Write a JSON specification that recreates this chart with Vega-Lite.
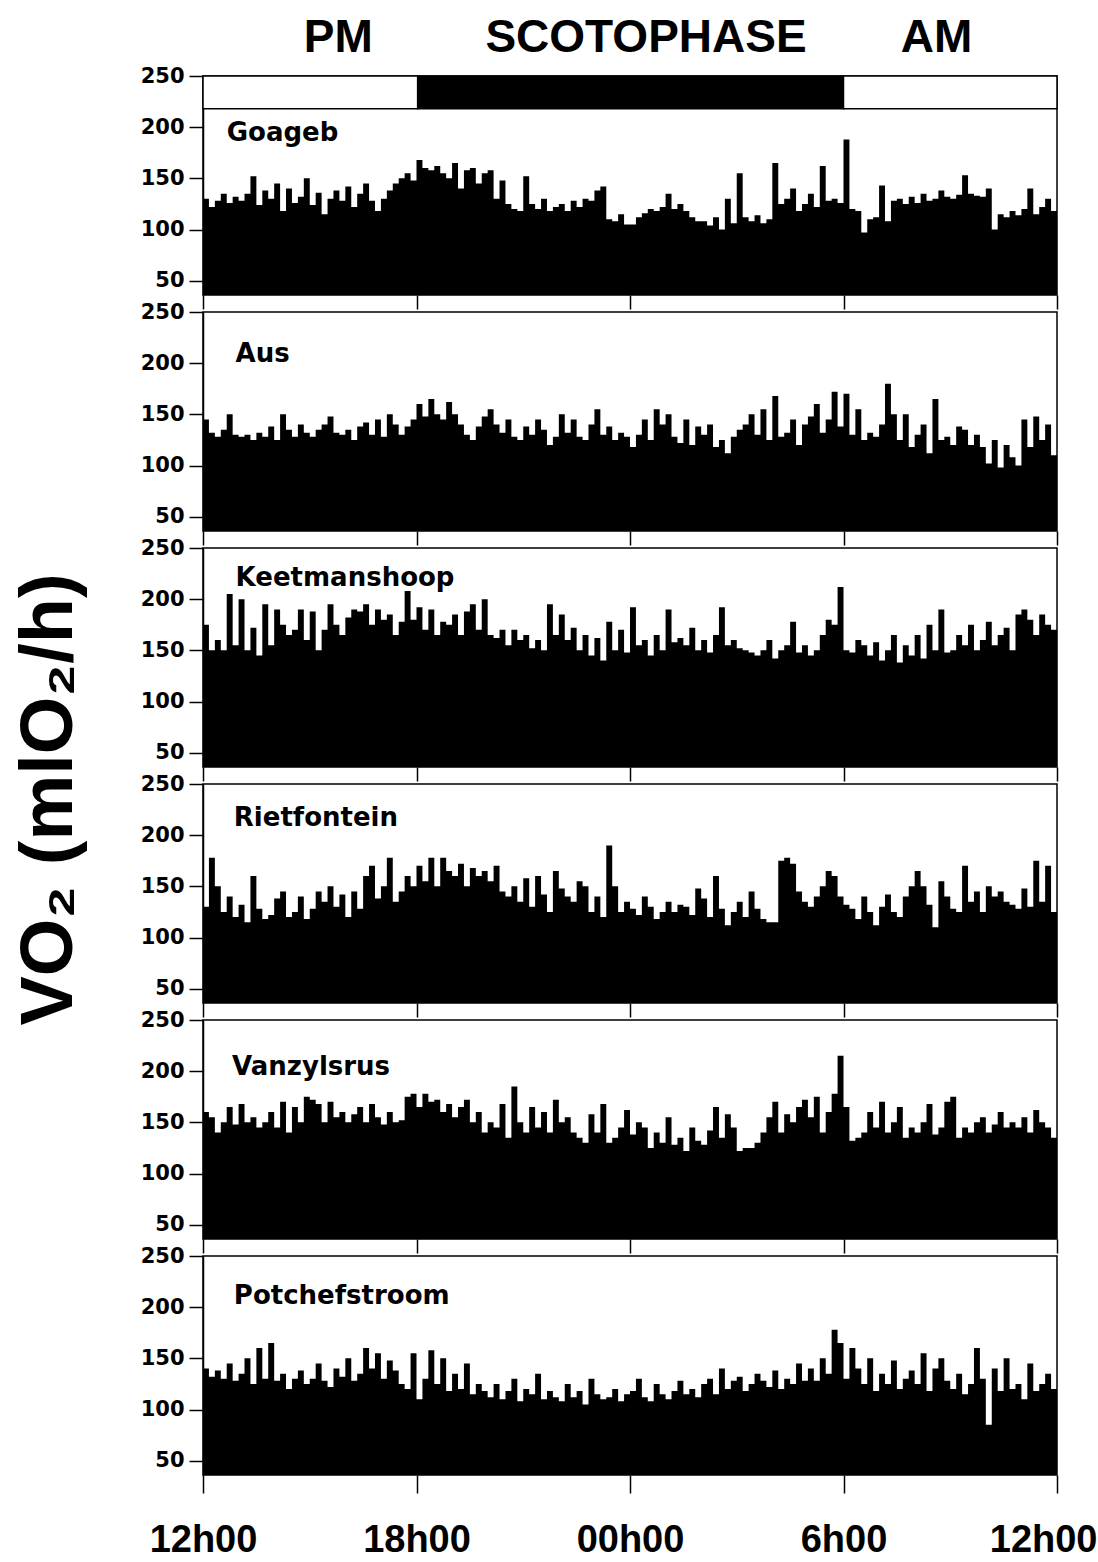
{
"$schema": "https://vega.github.io/schema/vega-lite/v6.json",
"background": "white",
"padding": {"left": 11, "top": 14, "right": 5, "bottom": 5},
"spacing": 17,
"bounds": "flush",
"config": {
  "view": {"stroke": "black", "strokeWidth": 1.5},
  "axis": {"domainColor": "black", "domainWidth": 1.5, "tickColor": "black", "tickWidth": 1.5, "labelColor": "black", "labelFont": "DejaVu Sans", "labelFontWeight": "bold", "labelFontSize": 21, "grid": false, "titleColor": "black"}
},
"datasets": {"vo2": [
{"m":0,"g":130,"a":145,"k":175,"r":130,"v":160,"p":140},
{"m":10,"g":122,"a":132,"k":150,"r":178,"v":155,"p":132},
{"m":20,"g":128,"a":128,"k":160,"r":150,"v":140,"p":138},
{"m":30,"g":135,"a":135,"k":150,"r":125,"v":150,"p":130},
{"m":40,"g":126,"a":150,"k":205,"r":140,"v":165,"p":145},
{"m":50,"g":132,"a":130,"k":155,"r":120,"v":148,"p":128},
{"m":60,"g":128,"a":128,"k":200,"r":132,"v":168,"p":135},
{"m":70,"g":135,"a":130,"k":150,"r":115,"v":150,"p":150},
{"m":80,"g":152,"a":125,"k":172,"r":160,"v":155,"p":125},
{"m":90,"g":124,"a":132,"k":145,"r":128,"v":145,"p":160},
{"m":100,"g":138,"a":128,"k":195,"r":118,"v":150,"p":130},
{"m":110,"g":130,"a":138,"k":155,"r":122,"v":160,"p":165},
{"m":120,"g":145,"a":125,"k":190,"r":138,"v":145,"p":128},
{"m":130,"g":118,"a":150,"k":175,"r":145,"v":170,"p":135},
{"m":140,"g":140,"a":135,"k":165,"r":120,"v":140,"p":120},
{"m":150,"g":126,"a":128,"k":170,"r":125,"v":165,"p":130},
{"m":160,"g":132,"a":140,"k":190,"r":140,"v":150,"p":138},
{"m":170,"g":150,"a":132,"k":160,"r":118,"v":175,"p":125},
{"m":180,"g":124,"a":128,"k":188,"r":128,"v":172,"p":130},
{"m":190,"g":136,"a":135,"k":150,"r":145,"v":168,"p":145},
{"m":200,"g":115,"a":140,"k":170,"r":135,"v":150,"p":128},
{"m":210,"g":130,"a":148,"k":195,"r":150,"v":170,"p":122},
{"m":220,"g":138,"a":132,"k":175,"r":130,"v":155,"p":140},
{"m":230,"g":128,"a":130,"k":165,"r":142,"v":160,"p":132},
{"m":240,"g":142,"a":135,"k":182,"r":120,"v":150,"p":150},
{"m":250,"g":122,"a":125,"k":190,"r":145,"v":158,"p":128},
{"m":260,"g":135,"a":138,"k":188,"r":128,"v":165,"p":135},
{"m":270,"g":145,"a":142,"k":195,"r":160,"v":150,"p":160},
{"m":280,"g":128,"a":130,"k":175,"r":170,"v":168,"p":140},
{"m":290,"g":118,"a":145,"k":190,"r":138,"v":155,"p":155},
{"m":300,"g":130,"a":128,"k":180,"r":150,"v":148,"p":130},
{"m":310,"g":138,"a":150,"k":185,"r":178,"v":160,"p":148},
{"m":320,"g":145,"a":140,"k":165,"r":135,"v":150,"p":138},
{"m":330,"g":150,"a":130,"k":178,"r":145,"v":152,"p":125},
{"m":340,"g":155,"a":138,"k":208,"r":160,"v":175,"p":120},
{"m":350,"g":148,"a":145,"k":180,"r":150,"v":178,"p":155},
{"m":360,"g":168,"a":160,"k":192,"r":170,"v":165,"p":110},
{"m":370,"g":160,"a":148,"k":170,"r":155,"v":178,"p":130},
{"m":380,"g":158,"a":165,"k":190,"r":178,"v":170,"p":158},
{"m":390,"g":162,"a":150,"k":165,"r":150,"v":172,"p":125},
{"m":400,"g":155,"a":145,"k":178,"r":178,"v":160,"p":150},
{"m":410,"g":150,"a":162,"k":175,"r":165,"v":168,"p":118},
{"m":420,"g":165,"a":150,"k":185,"r":160,"v":155,"p":135},
{"m":430,"g":140,"a":140,"k":165,"r":172,"v":165,"p":120},
{"m":440,"g":158,"a":130,"k":188,"r":150,"v":172,"p":145},
{"m":450,"g":160,"a":125,"k":195,"r":168,"v":150,"p":115},
{"m":460,"g":145,"a":138,"k":170,"r":160,"v":160,"p":125},
{"m":470,"g":155,"a":148,"k":200,"r":165,"v":140,"p":118},
{"m":480,"g":158,"a":155,"k":165,"r":155,"v":150,"p":112},
{"m":490,"g":130,"a":140,"k":162,"r":170,"v":145,"p":125},
{"m":500,"g":148,"a":132,"k":170,"r":145,"v":168,"p":110},
{"m":510,"g":125,"a":145,"k":155,"r":140,"v":135,"p":118},
{"m":520,"g":120,"a":128,"k":170,"r":150,"v":185,"p":130},
{"m":530,"g":118,"a":125,"k":160,"r":135,"v":150,"p":108},
{"m":540,"g":152,"a":138,"k":165,"r":158,"v":140,"p":120},
{"m":550,"g":125,"a":130,"k":152,"r":130,"v":165,"p":115},
{"m":560,"g":120,"a":145,"k":160,"r":160,"v":145,"p":135},
{"m":570,"g":130,"a":135,"k":150,"r":142,"v":160,"p":110},
{"m":580,"g":118,"a":120,"k":195,"r":125,"v":140,"p":118},
{"m":590,"g":122,"a":128,"k":165,"r":165,"v":172,"p":112},
{"m":600,"g":125,"a":150,"k":185,"r":148,"v":150,"p":108},
{"m":610,"g":118,"a":132,"k":160,"r":140,"v":155,"p":125},
{"m":620,"g":128,"a":145,"k":172,"r":135,"v":140,"p":112},
{"m":630,"g":122,"a":128,"k":150,"r":155,"v":135,"p":118},
{"m":640,"g":130,"a":125,"k":165,"r":150,"v":130,"p":105},
{"m":650,"g":128,"a":140,"k":145,"r":125,"v":158,"p":130},
{"m":660,"g":138,"a":155,"k":162,"r":140,"v":140,"p":115},
{"m":670,"g":142,"a":130,"k":140,"r":120,"v":168,"p":110},
{"m":680,"g":110,"a":138,"k":178,"r":190,"v":130,"p":112},
{"m":690,"g":108,"a":125,"k":150,"r":150,"v":135,"p":120},
{"m":700,"g":115,"a":132,"k":170,"r":125,"v":145,"p":108},
{"m":710,"g":105,"a":128,"k":148,"r":135,"v":162,"p":115},
{"m":720,"g":105,"a":118,"k":192,"r":128,"v":138,"p":118},
{"m":730,"g":112,"a":130,"k":155,"r":122,"v":150,"p":130},
{"m":740,"g":116,"a":145,"k":160,"r":140,"v":145,"p":112},
{"m":750,"g":120,"a":125,"k":145,"r":130,"v":125,"p":108},
{"m":760,"g":118,"a":155,"k":165,"r":118,"v":140,"p":125},
{"m":770,"g":122,"a":140,"k":150,"r":125,"v":130,"p":115},
{"m":780,"g":135,"a":150,"k":190,"r":135,"v":155,"p":110},
{"m":790,"g":120,"a":128,"k":158,"r":125,"v":128,"p":118},
{"m":800,"g":125,"a":122,"k":162,"r":132,"v":135,"p":128},
{"m":810,"g":118,"a":145,"k":155,"r":130,"v":122,"p":115},
{"m":820,"g":112,"a":120,"k":172,"r":122,"v":145,"p":120},
{"m":830,"g":108,"a":138,"k":150,"r":148,"v":132,"p":112},
{"m":840,"g":108,"a":130,"k":160,"r":138,"v":128,"p":125},
{"m":850,"g":104,"a":140,"k":148,"r":120,"v":142,"p":130},
{"m":860,"g":112,"a":118,"k":165,"r":160,"v":165,"p":115},
{"m":870,"g":100,"a":125,"k":192,"r":128,"v":135,"p":140},
{"m":880,"g":130,"a":112,"k":155,"r":112,"v":158,"p":120},
{"m":890,"g":106,"a":128,"k":160,"r":125,"v":145,"p":128},
{"m":900,"g":155,"a":135,"k":152,"r":135,"v":122,"p":132},
{"m":910,"g":112,"a":140,"k":150,"r":120,"v":125,"p":118},
{"m":920,"g":108,"a":150,"k":148,"r":145,"v":125,"p":125},
{"m":930,"g":114,"a":130,"k":145,"r":128,"v":130,"p":135},
{"m":940,"g":106,"a":155,"k":150,"r":118,"v":140,"p":128},
{"m":950,"g":110,"a":125,"k":160,"r":115,"v":155,"p":122},
{"m":960,"g":165,"a":168,"k":142,"r":115,"v":170,"p":138},
{"m":970,"g":125,"a":128,"k":150,"r":175,"v":140,"p":120},
{"m":980,"g":130,"a":132,"k":155,"r":178,"v":158,"p":130},
{"m":990,"g":140,"a":145,"k":178,"r":172,"v":150,"p":125},
{"m":1000,"g":118,"a":120,"k":148,"r":145,"v":165,"p":145},
{"m":1010,"g":125,"a":140,"k":155,"r":135,"v":172,"p":128},
{"m":1020,"g":135,"a":148,"k":145,"r":130,"v":155,"p":140},
{"m":1030,"g":122,"a":160,"k":150,"r":140,"v":175,"p":128},
{"m":1040,"g":162,"a":132,"k":165,"r":150,"v":140,"p":150},
{"m":1050,"g":128,"a":145,"k":180,"r":165,"v":160,"p":135},
{"m":1060,"g":130,"a":172,"k":175,"r":160,"v":178,"p":178},
{"m":1070,"g":126,"a":138,"k":212,"r":140,"v":215,"p":165},
{"m":1080,"g":188,"a":170,"k":150,"r":132,"v":165,"p":130},
{"m":1090,"g":120,"a":130,"k":148,"r":128,"v":132,"p":160},
{"m":1100,"g":118,"a":155,"k":160,"r":118,"v":135,"p":140},
{"m":1110,"g":97,"a":125,"k":155,"r":140,"v":140,"p":125},
{"m":1120,"g":110,"a":132,"k":145,"r":125,"v":160,"p":150},
{"m":1130,"g":112,"a":128,"k":158,"r":112,"v":145,"p":118},
{"m":1140,"g":143,"a":140,"k":140,"r":130,"v":170,"p":135},
{"m":1150,"g":108,"a":180,"k":150,"r":142,"v":140,"p":125},
{"m":1160,"g":128,"a":150,"k":165,"r":125,"v":150,"p":148},
{"m":1170,"g":130,"a":125,"k":138,"r":120,"v":165,"p":120},
{"m":1180,"g":125,"a":150,"k":155,"r":140,"v":135,"p":130},
{"m":1190,"g":132,"a":118,"k":145,"r":150,"v":145,"p":138},
{"m":1200,"g":126,"a":130,"k":165,"r":165,"v":140,"p":125},
{"m":1210,"g":135,"a":140,"k":142,"r":150,"v":150,"p":155},
{"m":1220,"g":128,"a":112,"k":175,"r":132,"v":168,"p":118},
{"m":1230,"g":130,"a":165,"k":150,"r":110,"v":138,"p":140},
{"m":1240,"g":138,"a":125,"k":190,"r":155,"v":145,"p":150},
{"m":1250,"g":132,"a":128,"k":148,"r":140,"v":170,"p":128},
{"m":1260,"g":130,"a":120,"k":150,"r":128,"v":175,"p":120},
{"m":1270,"g":134,"a":138,"k":165,"r":125,"v":135,"p":135},
{"m":1280,"g":153,"a":135,"k":155,"r":170,"v":145,"p":115},
{"m":1290,"g":135,"a":120,"k":175,"r":135,"v":140,"p":125},
{"m":1300,"g":133,"a":130,"k":150,"r":145,"v":150,"p":160},
{"m":1310,"g":132,"a":118,"k":160,"r":125,"v":155,"p":130},
{"m":1320,"g":140,"a":102,"k":178,"r":150,"v":140,"p":85},
{"m":1330,"g":100,"a":125,"k":155,"r":140,"v":148,"p":140},
{"m":1340,"g":115,"a":98,"k":165,"r":145,"v":160,"p":118},
{"m":1350,"g":112,"a":120,"k":172,"r":135,"v":145,"p":150},
{"m":1360,"g":118,"a":108,"k":150,"r":132,"v":150,"p":120},
{"m":1370,"g":114,"a":100,"k":185,"r":128,"v":145,"p":125},
{"m":1380,"g":120,"a":145,"k":190,"r":148,"v":155,"p":110},
{"m":1390,"g":140,"a":118,"k":180,"r":130,"v":140,"p":145},
{"m":1400,"g":115,"a":148,"k":165,"r":175,"v":162,"p":118},
{"m":1410,"g":122,"a":125,"k":185,"r":135,"v":150,"p":125},
{"m":1420,"g":130,"a":140,"k":175,"r":170,"v":145,"p":135},
{"m":1430,"g":118,"a":110,"k":170,"r":125,"v":135,"p":120},
{"m":1440,"g":125,"a":100,"k":162,"r":130,"v":178,"p":118}
]},
"vconcat": [
{
 "width": 854, "height": 219,
 "layer": [
  {"data": {"name": "vo2"},
   "mark": {"type": "area", "interpolate": "step-after", "color": "black"},
   "encoding": {
    "x": {"field": "m", "type": "quantitative", "scale": {"domain": [0, 1440], "nice": false, "zero": false}, "axis": {"values": [0, 360, 720, 1080, 1440], "labels": false, "tickSize": 14, "domain": false, "title": null}},
    "y": {"field": "g", "type": "quantitative", "scale": {"domain": [36, 250], "nice": false, "zero": false}, "axis": {"values": [50, 100, 150, 200, 250], "tickSize": 14, "labelPadding": 5, "title": null}},
    "y2": {"datum": 36}
   }},
  {"data": {"values": [{"s": 0, "e": 362, "phase": "light"}, {"s": 362, "e": 1080, "phase": "dark"}, {"s": 1080, "e": 1440, "phase": "light"}]},
   "mark": {"type": "rect", "stroke": "black", "strokeWidth": 1.5},
   "encoding": {
    "x": {"field": "s", "type": "quantitative"},
    "x2": {"field": "e"},
    "y": {"datum": 218},
    "y2": {"datum": 250},
    "color": {"field": "phase", "type": "nominal", "scale": {"domain": ["light", "dark"], "range": ["white", "black"]}, "legend": null}
   }},
  {"data": {"values": [{"label": "Goageb"}]},
   "mark": {"type": "text", "align": "left", "baseline": "middle", "font": "DejaVu Sans", "fontWeight": "bold", "fontSize": 26, "color": "black"},
   "encoding": {"x": {"datum": 40}, "y": {"datum": 194}, "text": {"field": "label"}}},
  {"data": {"values": [{"label": "PM"}]},
   "mark": {"type": "text", "align": "center", "baseline": "middle", "font": "Liberation Sans", "fontWeight": "bold", "fontSize": 46, "color": "black"},
   "encoding": {"x": {"datum": 228}, "y": {"datum": 287}, "text": {"field": "label"}}},
  {"data": {"values": [{"label": "SCOTOPHASE"}]},
   "mark": {"type": "text", "align": "center", "baseline": "middle", "font": "Liberation Sans", "fontWeight": "bold", "fontSize": 46, "color": "black"},
   "encoding": {"x": {"datum": 747}, "y": {"datum": 287}, "text": {"field": "label"}}},
  {"data": {"values": [{"label": "AM"}]},
   "mark": {"type": "text", "align": "center", "baseline": "middle", "font": "Liberation Sans", "fontWeight": "bold", "fontSize": 46, "color": "black"},
   "encoding": {"x": {"datum": 1237}, "y": {"datum": 287}, "text": {"field": "label"}}}
 ]
},
{
 "width": 854, "height": 219,
 "layer": [
  {"data": {"name": "vo2"},
   "mark": {"type": "area", "interpolate": "step-after", "color": "black"},
   "encoding": {
    "x": {"field": "m", "type": "quantitative", "scale": {"domain": [0, 1440], "nice": false, "zero": false}, "axis": {"values": [0, 360, 720, 1080, 1440], "labels": false, "tickSize": 14, "domain": false, "title": null}},
    "y": {"field": "a", "type": "quantitative", "scale": {"domain": [36, 250], "nice": false, "zero": false}, "axis": {"values": [50, 100, 150, 200, 250], "tickSize": 14, "labelPadding": 5, "title": null}},
    "y2": {"datum": 36}
   }},
  {"data": {"values": [{"label": "Aus"}]},
   "mark": {"type": "text", "align": "left", "baseline": "middle", "font": "DejaVu Sans", "fontWeight": "bold", "fontSize": 26, "color": "black"},
   "encoding": {"x": {"datum": 55}, "y": {"datum": 209}, "text": {"field": "label"}}}
 ]
},
{
 "width": 854, "height": 219,
 "layer": [
  {"data": {"name": "vo2"},
   "mark": {"type": "area", "interpolate": "step-after", "color": "black"},
   "encoding": {
    "x": {"field": "m", "type": "quantitative", "scale": {"domain": [0, 1440], "nice": false, "zero": false}, "axis": {"values": [0, 360, 720, 1080, 1440], "labels": false, "tickSize": 14, "domain": false, "title": null}},
    "y": {"field": "k", "type": "quantitative", "scale": {"domain": [36, 250], "nice": false, "zero": false}, "axis": {"values": [50, 100, 150, 200, 250], "tickSize": 14, "labelPadding": 5, "title": null}},
    "y2": {"datum": 36}
   }},
  {"data": {"values": [{"label": "Keetmanshoop"}]},
   "mark": {"type": "text", "align": "left", "baseline": "middle", "font": "DejaVu Sans", "fontWeight": "bold", "fontSize": 26, "color": "black"},
   "encoding": {"x": {"datum": 55}, "y": {"datum": 221}, "text": {"field": "label"}}}
 ]
},
{
 "width": 854, "height": 219,
 "layer": [
  {"data": {"name": "vo2"},
   "mark": {"type": "area", "interpolate": "step-after", "color": "black"},
   "encoding": {
    "x": {"field": "m", "type": "quantitative", "scale": {"domain": [0, 1440], "nice": false, "zero": false}, "axis": {"values": [0, 360, 720, 1080, 1440], "labels": false, "tickSize": 14, "domain": false, "title": null}},
    "y": {"field": "r", "type": "quantitative", "scale": {"domain": [36, 250], "nice": false, "zero": false}, "axis": {"values": [50, 100, 150, 200, 250], "tickSize": 14, "labelPadding": 5, "title": "VO₂ (mlO₂/h)", "titleFont": "Liberation Sans", "titleFontWeight": "bold", "titleFontSize": 74, "titleX": -132, "titleY": 15, "titleBaseline": "alphabetic", "titleAlign": "center", "titleAngle": 270}},
    "y2": {"datum": 36}
   }},
  {"data": {"values": [{"label": "Rietfontein"}]},
   "mark": {"type": "text", "align": "left", "baseline": "middle", "font": "DejaVu Sans", "fontWeight": "bold", "fontSize": 26, "color": "black"},
   "encoding": {"x": {"datum": 52}, "y": {"datum": 217}, "text": {"field": "label"}}}
 ]
},
{
 "width": 854, "height": 219,
 "layer": [
  {"data": {"name": "vo2"},
   "mark": {"type": "area", "interpolate": "step-after", "color": "black"},
   "encoding": {
    "x": {"field": "m", "type": "quantitative", "scale": {"domain": [0, 1440], "nice": false, "zero": false}, "axis": {"values": [0, 360, 720, 1080, 1440], "labels": false, "tickSize": 14, "domain": false, "title": null}},
    "y": {"field": "v", "type": "quantitative", "scale": {"domain": [36, 250], "nice": false, "zero": false}, "axis": {"values": [50, 100, 150, 200, 250], "tickSize": 14, "labelPadding": 5, "title": null}},
    "y2": {"datum": 36}
   }},
  {"data": {"values": [{"label": "Vanzylsrus"}]},
   "mark": {"type": "text", "align": "left", "baseline": "middle", "font": "DejaVu Sans", "fontWeight": "bold", "fontSize": 26, "color": "black"},
   "encoding": {"x": {"datum": 49}, "y": {"datum": 204}, "text": {"field": "label"}}}
 ]
},
{
 "width": 854, "height": 219,
 "layer": [
  {"data": {"name": "vo2"},
   "mark": {"type": "area", "interpolate": "step-after", "color": "black"},
   "encoding": {
    "x": {"field": "m", "type": "quantitative", "scale": {"domain": [0, 1440], "nice": false, "zero": false}, "axis": {"values": [0, 360, 720, 1080, 1440], "labelExpr": "datum.value == 360 ? '18h00' : datum.value == 720 ? '00h00' : datum.value == 1080 ? '6h00' : '12h00'", "labelFont": "Liberation Sans", "labelFontSize": 38, "labelFlush": false, "labelAlign": {"condition": {"test": "datum.value == 1440", "value": "right"}, "value": "center"}, "labelOffset": {"condition": {"test": "datum.value == 1440", "value": 40}, "value": 0}, "labelPadding": 28, "tickSize": 18, "domain": false, "title": null}},
    "y": {"field": "p", "type": "quantitative", "scale": {"domain": [36, 250], "nice": false, "zero": false}, "axis": {"values": [50, 100, 150, 200, 250], "tickSize": 14, "labelPadding": 5, "title": null}},
    "y2": {"datum": 36}
   }},
  {"data": {"values": [{"label": "Potchefstroom"}]},
   "mark": {"type": "text", "align": "left", "baseline": "middle", "font": "DejaVu Sans", "fontWeight": "bold", "fontSize": 26, "color": "black"},
   "encoding": {"x": {"datum": 52}, "y": {"datum": 211}, "text": {"field": "label"}}}
 ]
}
]
}
